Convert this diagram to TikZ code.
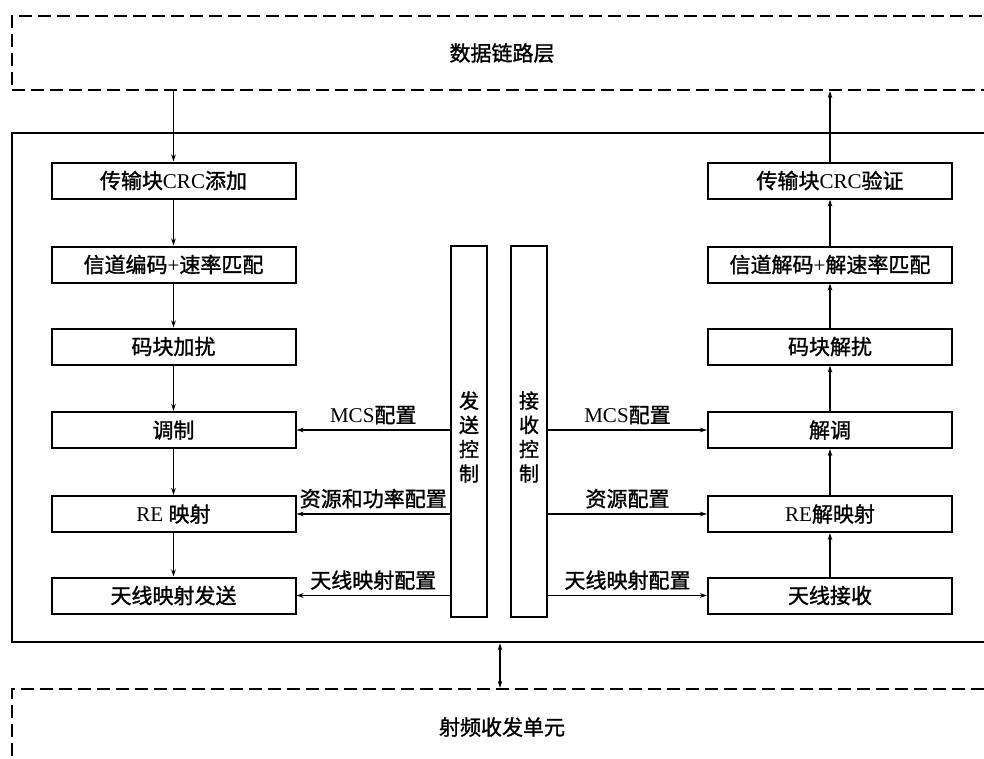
\documentclass[tikz,border=0pt]{standalone}
\usepackage{fontspec}
\setmainfont{Liberation Serif}
\newfontfamily\cjk[FakeBold=1.3]{Noto Sans CJK SC}
\newcommand{\zh}[1]{{\cjk #1}}
\usetikzlibrary{arrows.meta}
\tikzset{
  txtfont/.style={font=\fontsize{21}{24}\selectfont},
  blk/.style={draw, line width=2pt, minimum width=244pt, minimum height=36pt, inner sep=0pt, txtfont},
  ctl/.style={draw, line width=2pt, minimum width=36pt, minimum height=371pt, inner sep=0pt},
  ctltext/.style={align=center, inner sep=0pt, font=\cjk\fontsize{20}{24.3}\selectfont},
  dbox/.style={draw, line width=2.2pt, dash pattern=on 13pt off 6pt, minimum width=980pt, inner sep=0pt, txtfont},
  mainbox/.style={draw, line width=2.6pt, minimum width=984pt, minimum height=509pt, inner sep=0pt},
  arr/.style={line width=1.3pt, -{Stealth[length=7pt,width=4.5pt]}},
  arrtwo/.style={line width=1.3pt, {Stealth[length=7pt,width=4.5pt]}-{Stealth[length=7pt,width=4.5pt]}},
  lbl/.style={above=4pt, inner sep=1pt, txtfont}
}
\begin{document}
\begin{tikzpicture}[x=1pt,y=-1pt]
\clip (0,0) rectangle (984,758);
\fill[white] (0,0) rectangle (984,758);

\node[dbox, minimum height=74pt] (dll) at (502,53) {\zh{数据链路层}};
\node[mainbox] (main) at (504,387.5) {};
\node[dbox, minimum height=76pt] (rf) at (502,727) {\zh{射频收发单元}};

% left column
\node[blk] (l1) at (173.5,180.5) {\zh{传输块}CRC\zh{添加}};
\node[blk] (l2) at (173.5,264.5) {\zh{信道编码}+\zh{速率匹配}};
\node[blk] (l3) at (173.5,346.5) {\zh{码块加扰}};
\node[blk] (l4) at (173.5,430) {\zh{调制}};
\node[blk] (l5) at (173.5,514) {RE \zh{映射}};
\node[blk] (l6) at (173.5,595.5) {\zh{天线映射发送}};

% right column
\node[blk] (r1) at (830,180.5) {\zh{传输块}CRC\zh{验证}};
\node[blk] (r2) at (830,264.5) {\zh{信道解码}+\zh{解速率匹配}};
\node[blk] (r3) at (830,346.5) {\zh{码块解扰}};
\node[blk] (r4) at (830,430) {\zh{解调}};
\node[blk] (r5) at (830,514) {RE\zh{解映射}};
\node[blk] (r6) at (830,595.5) {\zh{天线接收}};

% control boxes
\node[ctl] (tx) at (469,431.5) {};
\node[ctl] (rx) at (529,431.5) {};
\node[ctltext] (txt) at (469,437) {发\\送\\控\\制};
\node[ctltext] (rxt) at (529,437) {接\\收\\控\\制};

% left vertical flow
\draw[arr] (l1.north |- dll.south) -- (l1.north);
\draw[arr] (l1) -- (l2);
\draw[arr] (l2) -- (l3);
\draw[arr] (l3) -- (l4);
\draw[arr] (l4) -- (l5);
\draw[arr] (l5) -- (l6);

% right vertical flow
\draw[arr] (r6) -- (r5);
\draw[arr] (r5) -- (r4);
\draw[arr] (r4) -- (r3);
\draw[arr] (r3) -- (r2);
\draw[arr] (r2) -- (r1);
\draw[arr] (r1.north) -- (r1.north |- dll.south);

% control arrows left
\draw[arr] (tx.west |- l4.east) -- node[lbl] {MCS\zh{配置}} (l4.east);
\draw[arr] (tx.west |- l5.east) -- node[lbl] {\zh{资源和功率配置}} (l5.east);
\draw[arr] (tx.west |- l6.east) -- node[lbl] {\zh{天线映射配置}} (l6.east);

% control arrows right
\draw[arr] (rx.east |- r4.west) -- node[lbl] {MCS\zh{配置}} (r4.west);
\draw[arr] (rx.east |- r5.west) -- node[lbl] {\zh{资源配置}} (r5.west);
\draw[arr] (rx.east |- r6.west) -- node[lbl] {\zh{天线映射配置}} (r6.west);

% link to RF unit
\coordinate (bx) at (500,0);
\draw[arrtwo] (bx |- main.south) -- (bx |- rf.north);
\end{tikzpicture}
\end{document}
